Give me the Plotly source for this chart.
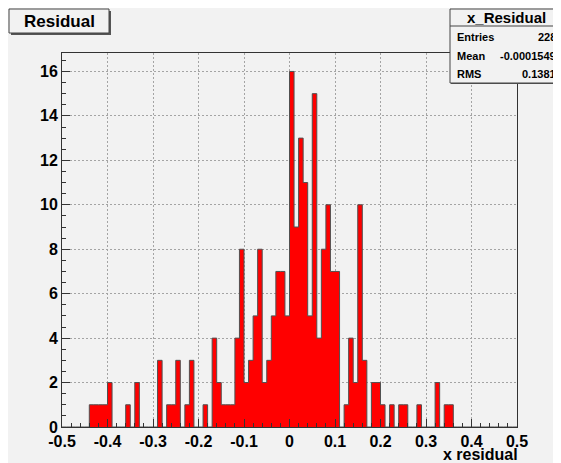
import numpy as np
import plotly.graph_objects as go

# ---- data ----
x_min, x_max, n_bins = -0.5, 0.5, 100
counts = [0, 0, 0, 0, 0, 0, 1, 1, 1, 1,
          2, 0, 0, 0, 1, 0, 2, 0, 0, 0,
          0, 3, 0, 1, 1, 3, 0, 1, 3, 0,
          0, 1, 0, 4, 2, 1, 1, 1, 4, 8,
          2, 3, 5, 8, 2, 3, 5, 7, 7, 5,
          16, 9, 13, 11, 5, 15, 4, 8, 10, 7,
          7, 0, 1, 4, 2, 10, 3, 0, 2, 2,
          1, 0, 1, 0, 1, 1, 0, 0, 1, 0,
          0, 0, 2, 0, 1, 1, 0, 0, 0, 0,
          0, 0, 0, 0, 0, 0, 0, 0, 0, 0]
x_ticks = [-0.5, -0.4, -0.3, -0.2, -0.1, 0, 0.1, 0.2, 0.3, 0.4, 0.5]
x_tick_labels = ["-0.5", "-0.4", "-0.3", "-0.2", "-0.1", "0", "0.1", "0.2", "0.3", "0.4", "0.5"]
y_ticks = [0, 2, 4, 6, 8, 10, 12, 14, 16]
hist_title = "Residual"
stats_name = "x_Residual"
stats_rows = [("Entries", "228"), ("Mean", "-0.0001549"), ("RMS", "0.1381")]
x_title = "x residual"

# ---- geometry (page has an 8px body margin) ----
OFF = 8
W, H = 561 - OFF, 463 - OFF
L, R, T, B = 62 - OFF, 44, 53 - OFF, 36
pw, ph = W - L - R, H - T - B


def px(xs):
    # screen pixel -> paper coordinate
    return (xs - OFF - L) / pw


def py(ys):
    return (H - B - (ys - OFF)) / ph


edges = np.linspace(x_min, x_max, n_bins + 1)

BG = "#f2f2f2"
GRID = "#a4a4a4"
font_b = dict(family="Liberation Sans, Arial, sans-serif", color="black", weight="bold")

fig = go.Figure()
fig.add_trace(go.Scatter(
    x=[edges[0]] + list(edges[:-1]) + [edges[-1], edges[-1]],
    y=[0] + list(counts) + [counts[-1], 0],
    mode="lines", line=dict(shape="hv", color="#505050", width=1),
    fill="tozeroy", fillcolor="#ff0000", hoverinfo="skip", showlegend=False))

fig.update_layout(
    width=W, height=H,
    margin=dict(l=L, r=R, t=T, b=B),
    paper_bgcolor=BG, plot_bgcolor=BG,
    showlegend=False,
    xaxis=dict(range=[x_min, x_max], tickvals=x_ticks, ticktext=x_tick_labels,
               ticks="inside", ticklen=8, tickcolor="#333", showline=True, mirror=True,
               linecolor="#333", linewidth=1, showgrid=True, gridcolor=GRID,
               griddash="2px,2px", gridwidth=1, zeroline=False,
               tickfont=dict(size=16, **font_b),
               minor=dict(dtick=0.02, ticks="inside", ticklen=4, tickcolor="#333", showgrid=False)),
    yaxis=dict(range=[0, 16.83], tickvals=y_ticks, ticks="inside", ticklen=8,
               tickcolor="#333", showline=True, mirror=True, linecolor="#333", linewidth=1,
               showgrid=True, gridcolor=GRID, griddash="2px,2px", gridwidth=1,
               zeroline=False, tickfont=dict(size=16, **font_b),
               minor=dict(dtick=0.5, ticks="inside", ticklen=4, tickcolor="#333", showgrid=False)),
)

shapes = []
# title box with shadow
shapes.append(dict(type="rect", xref="paper", yref="paper", x0=px(11), x1=px(111), y0=py(35), y1=py(11),
                   fillcolor="#555", line=dict(width=0)))
shapes.append(dict(type="rect", xref="paper", yref="paper", x0=px(9), x1=px(109), y0=py(33), y1=py(9),
                   fillcolor=BG, line=dict(color="#444", width=1)))
# stats box
shapes.append(dict(type="rect", xref="paper", yref="paper", x0=px(451), x1=px(562), y0=py(84), y1=py(10),
                   fillcolor="#555", line=dict(width=0)))
shapes.append(dict(type="rect", xref="paper", yref="paper", x0=px(450), x1=px(560), y0=py(83), y1=py(9),
                   fillcolor=BG, line=dict(color="#444", width=1)))
shapes.append(dict(type="line", xref="paper", yref="paper", x0=px(450), x1=px(560), y0=py(26), y1=py(26),
                   line=dict(color="#444", width=1)))
fig.update_layout(shapes=shapes)

ann = []
ann.append(dict(text=hist_title, xref="paper", yref="paper", x=px(59), y=py(21),
                showarrow=False, xanchor="center", yanchor="middle",
                font=dict(size=17, **font_b)))
ann.append(dict(text=stats_name, xref="paper", yref="paper", x=px(506), y=py(17.5),
                showarrow=False, xanchor="center", yanchor="middle",
                font=dict(size=15, **font_b)))
row_y = [37, 56, 74]
for (lab, val), yy in zip(stats_rows, row_y):
    ann.append(dict(text=lab, xref="paper", yref="paper", x=px(455), y=py(yy),
                    showarrow=False, xanchor="left", yanchor="middle",
                    font=dict(size=11, **font_b)))
    ann.append(dict(text=val, xref="paper", yref="paper", x=px(558), y=py(yy),
                    showarrow=False, xanchor="right", yanchor="middle",
                    font=dict(size=11, **font_b)))
ann.append(dict(text=x_title, xref="paper", yref="paper", x=px(520), y=py(454),
                showarrow=False, xanchor="right", yanchor="middle",
                font=dict(size=16, **font_b)))
fig.update_layout(annotations=ann)

fig.write_html("out.html")
